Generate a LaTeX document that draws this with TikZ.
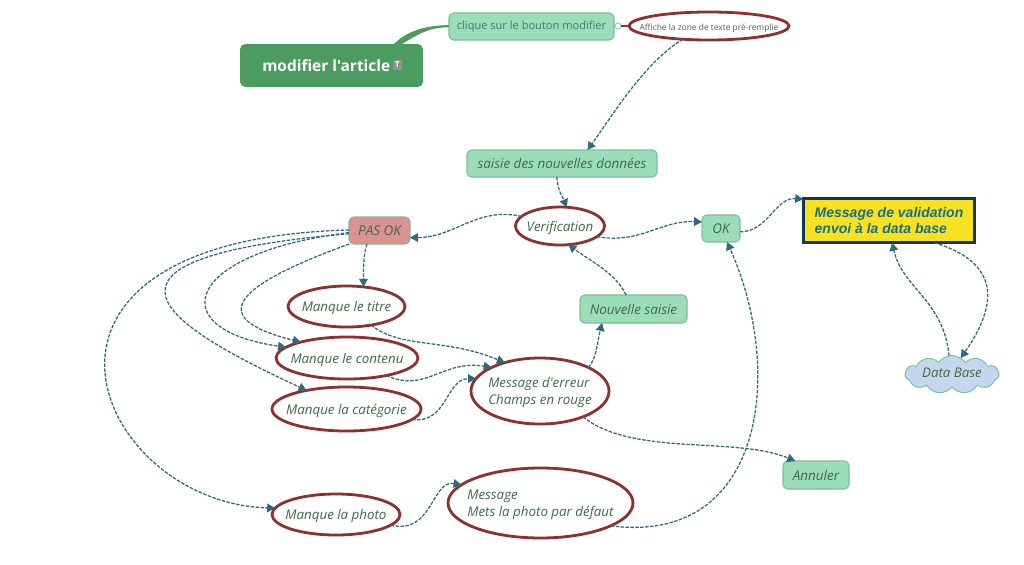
\documentclass[tikz,border=0pt]{standalone}
\usepackage{fontspec}
\newfontfamily\opensf{Open Sans}
\newfontfamily\arialf{Liberation Sans}
\AtBeginDocument{\opensf}
\usetikzlibrary{arrows.meta,shapes.geometric,shapes.symbols}
\definecolor{mint}{HTML}{9CDDB9}
\definecolor{mintb}{HTML}{7DBF94}
\definecolor{rootg}{HTML}{4C9B60}
\definecolor{rose}{HTML}{DB9292}
\definecolor{wine}{HTML}{8F2F2F}
\definecolor{link}{HTML}{2F6B7C}
\definecolor{txt}{HTML}{3C6B48}
\definecolor{teal}{HTML}{3A7A78}
\definecolor{yell}{HTML}{F7E120}
\definecolor{navy}{HTML}{12355B}
\definecolor{msgt}{HTML}{1A6E8A}
\definecolor{cloudf}{HTML}{C5D7EE}
\newcommand\tx[1]{\raisebox{-1.5pt}[\height][\depth]{\makebox[0pt]{#1}}}
\newcommand\txup[1]{\raisebox{1.2pt}[\height][\depth]{\makebox[0pt]{#1}}}
\tikzset{
  x=0.75pt,y=-0.75pt,
  sized/.style 2 args={minimum width=#1*0.75pt,minimum height=#2*0.75pt,inner sep=0pt,outer sep=0pt},
  topic/.style 2 args={sized={#1}{#2},draw=mintb,line width=0.8pt,fill=mint,rounded corners=3.5pt,text=txt,font=\itshape\fontsize{10.1}{13}\selectfont},
  oval/.style 2 args={ellipse,sized={(#1-2)}{(#2-2)},draw=wine,line width=2.1pt,fill=white,text=txt,font=\itshape\fontsize{10}{12.8}\selectfont},
  lnk/.style={draw=link,line width=0.95pt,dash pattern=on 2.6pt off 1.1pt,-{Triangle[length=6pt,width=6.5pt,fill=link]}},
}
\begin{document}
\begin{tikzpicture}
\useasboundingbox (0,0) rectangle (1024,564);
\fill[white] (0,0) rectangle (1024,564);
\node[sized={183}{43},fill=rootg,rounded corners=4pt] (root) at (331.5,65.5) {};
\node[text=white,anchor=west,inner sep=0pt,font=\bfseries\fontsize{11.6}{14}\selectfont] (roott) at (262,65.5) {modifier l'article};
\node[sized={9.5}{9.5},fill=gray!85,font=\bfseries\fontsize{6}{6}\selectfont,text=white] (icon) at (397.5,65) {T};
\node[topic={165}{27},text=teal,font=\fontsize{8.3}{11}\selectfont] (click) at (531.5,26.5) {clique sur le bouton modifier};
\node[oval={162}{30},text=black!65,font=\fontsize{6.3}{8}\selectfont] (aff) at (709,26) {\tx{Affiche la zone de texte pré-remplie}};
\node[circle,minimum size=4.5pt,inner sep=0pt,draw=mintb,line width=0.5pt,fill=white] (tog) at (618,26) {};
\node[topic={190}{27}] (sai) at (562,163.5) {saisie des nouvelles données};
\node[oval={91}{40}] (ver) at (560,226) {\tx{Verification}};
\node[topic={61}{27},fill=rose] (pas) at (379.5,230.5) {PAS OK};
\node[topic={38}{27}] (ok) at (721,228.5) {OK};
\node[sized={171.5}{44.5},draw=navy,line width=2pt,fill=yell,text=msgt,align=left,font=\arialf\bfseries\itshape\fontsize{10.5}{12}\selectfont] (msg) at (889,220.5) {Message de validation\\envoi à la data base\hspace{1.5em}};
\node[cloud,cloud puffs=11,cloud puff arc=110,aspect=2.6,sized={94}{38},draw=mintb,line width=0.7pt,fill=cloudf,text=txt,font=\itshape\fontsize{10}{12}\selectfont] (db) at (952,374.5) {\txup{Data Base}};
\node[oval={119}{43}] (tit) at (346.5,306.5) {\tx{Manque le titre}};
\node[oval={144}{44}] (con) at (347,358) {\tx{Manque le contenu}};
\node[oval={151}{46}] (cat) at (346.5,409) {\tx{Manque la catégorie}};
\node[oval={140}{68}] (err) at (540,391) {\tx{\begin{tabular}{@{}l@{}}Message d'erreur\\Champs en rouge\end{tabular}}};
\node[topic={107}{28}] (nou) at (633.5,309) {Nouvelle saisie};
\node[topic={66}{28}] (ann) at (816,475) {Annuler};
\node[oval={130}{43}] (pho) at (336,514.5) {\tx{Manque la photo}};
\node[oval={187}{72}] (mes) at (540.5,503) {\tx{\begin{tabular}{@{}l@{}}Message\\Mets la photo par défaut\end{tabular}}};
% branches
\fill[rootg] (root.19.6) .. controls +(12,-12) and +(-25,0) .. ([yshift=1pt]click.west) -- ([yshift=-0.6pt]click.west) .. controls +(-22,0) and +(14,-8) .. (root.17) -- cycle;
\draw[mintb,line width=0.6pt] (click.east) -- (tog);
\draw[wine,line width=1.4pt] (tog) -- (aff);
% links
\draw[lnk] (aff.207) .. controls +(-38,22) and +(22,-30) .. (sai.28.4);
\draw[lnk] (sai.249.7) .. controls +(1,14) and +(-5,-12) .. (ver.70.7);
\draw[lnk] (ver.166.6) .. controls +(-45,-10) and +(45,0) .. (pas.-13.8);
\draw[lnk] (ver.-16.7) .. controls +(42,8) and +(-40,-2) .. (ok.161);
\draw[lnk] (nou.118) .. controls +(-10,-22) and +(20,15) .. (ver.-66.8);
\draw[lnk] (ok.-10.4) .. controls +(28,0) and +(-28,-2) .. (msg.166.6);
\draw[lnk] (msg.-26) .. controls +(65,20) and +(38,-55) .. (db.62);
\draw[lnk] (db.99) .. controls +(-5,-55) and +(10,45) .. (msg.-82.7);
\draw[lnk] (mes.-18.6) .. controls +(154,20) and +(58,129) .. (ok.-66);
\draw[lnk] (pas.227) .. controls +(-4,12) and +(0,-14) .. (tit.49.3);
\draw[lnk] (pas.204.2) .. controls +(-110,40) and +(-100,-25) .. (con.161);
\draw[lnk] (pas.184.7) .. controls +(-165,20) and +(-125,-18) .. (con.170);
\draw[lnk] (pas.186.5) .. controls +(-290,25) and +(-140,-65) .. (cat.155.3);
\draw[lnk] (pas.179) .. controls +(-370,10) and +(-180,-5) .. (pho.174);
\draw[lnk] (tit.-37.7) .. controls +(30,24) and +(-60,-25) .. (err.141.9);
\draw[lnk] (con.-24.9) .. controls +(40,18) and +(-50,-8) .. (err.154.3);
\draw[lnk] (cat.-9.3) .. controls +(35,5) and +(-30,0) .. (err.169.8);
\draw[lnk] (err.26.6) .. controls +(8,-8) and +(-5,20) .. (nou.204);
\draw[lnk] (err.-31.9) .. controls +(50,40) and +(-60,-25) .. (ann.146);
\draw[lnk] (pho.-11.4) .. controls +(42,10) and +(-30,-5) .. (mes.167.8);
\end{tikzpicture}
\end{document}
